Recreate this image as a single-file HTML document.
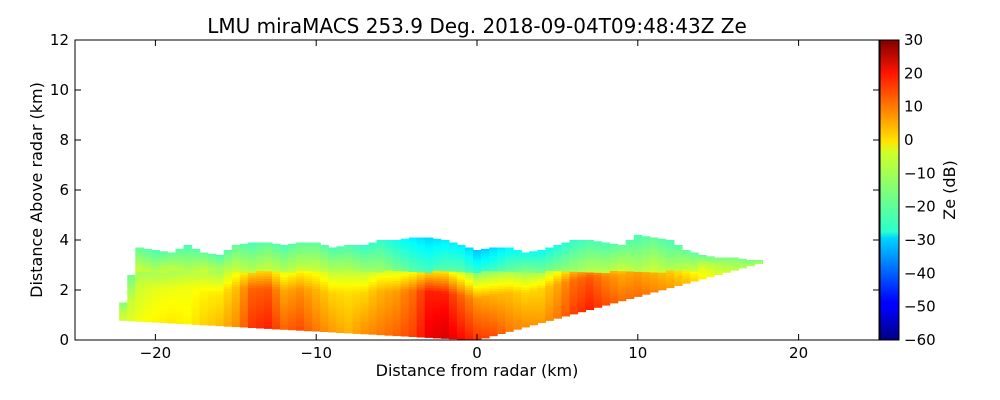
<!DOCTYPE html>
<html><head><meta charset="utf-8"><style>
body{margin:0;background:#fff;font-family:"Liberation Sans","DejaVu Sans",sans-serif;}
svg{display:block}
text{font-family:"DejaVu Sans","Liberation Sans",sans-serif;fill:#000}
</style></head><body>
<svg id="chart" width="1000" height="400" viewBox="0 0 1000 400">
<defs>
<linearGradient id="jet" x1="0" y1="1" x2="0" y2="0">
<stop offset="0" stop-color="#00007f"/><stop offset="0.11" stop-color="#0000ff"/><stop offset="0.125" stop-color="#0000ff"/>
<stop offset="0.34" stop-color="#00d4ff"/><stop offset="0.36" stop-color="#29ffce"/><stop offset="0.625" stop-color="#ceff29"/>
<stop offset="0.66" stop-color="#ffe600"/><stop offset="0.89" stop-color="#ff1400"/><stop offset="1" stop-color="#7f0000"/>
</linearGradient>
<clipPath id="plotclip"><rect x="75" y="40" width="804" height="300"/></clipPath>
</defs>
<rect x="0" y="0" width="1000" height="400" fill="#fff"/>
<text x="477" y="33" font-size="20" text-anchor="middle">LMU miraMACS 253.9 Deg. 2018-09-04T09:48:43Z  Ze</text>
<g id="cells" clip-path="url(#plotclip)"></g>
<rect x="75" y="40" width="804" height="300" fill="none" stroke="#000" stroke-width="1"/>
<g id="axes"></g>
<rect x="880" y="40" width="19" height="300" fill="url(#jet)" stroke="#000" stroke-width="1"/>
<text x="477" y="376" font-size="16" text-anchor="middle">Distance from radar (km)</text>
<text transform="translate(42,190) rotate(-90)" font-size="16" text-anchor="middle">Distance Above radar  (km)</text>
<text transform="translate(955,190) rotate(-90)" font-size="16" text-anchor="middle">Ze (dB)</text>
</svg>
<script>
const dist = [-22,-21,-20,-19,-18,-17,-16,-15,-14,-13,-12,-11,-10,-9,-8,-7,-6,-5,-4,-3,-2,-1,0,1,2,3,4,5,6,7,8,9,10,11,12,13,14,15,16,17];
const topKm = [1.5,3.7,3.6,3.5,3.8,3.5,3.4,3.8,3.9,3.9,3.8,3.9,3.9,3.7,3.8,3.8,4.0,4.0,4.1,4.1,4.0,3.8,3.6,3.7,3.7,3.5,3.6,3.8,4.0,4.0,3.9,3.8,4.2,4.1,4.0,3.6,3.4,3.3,3.3,3.2];
const zeLow = [-8,-5,-3,-2,-3,0,2,6,14,16,10,12,8,5,3,6,8,10,13,20,22,18,14,12,8,6,5,8,13,16,12,9,9,7,5,2,-3,-7,-10,-12];
const zeMid = [-10,-8,-6,-5,-5,-3,-2,2,10,11,4,6,3,0,-1,0,3,5,9,16,16,10,5,3,2,0,0,4,9,11,7,4,4,2,-1,-4,-7,-10,-12,-14];
const zeTop = [-15,-18,-20,-18,-20,-18,-20,-18,-20,-18,-20,-18,-18,-20,-20,-22,-22,-25,-28,-30,-28,-28,-32,-30,-27,-25,-26,-24,-22,-20,-20,-18,-20,-18,-20,-18,-18,-16,-16,-16];
const xTicks = [-20,-10,0,10,20];
const yTicks = [0,2,4,6,8,10,12];
const cTicks = [-60,-50,-40,-30,-20,-10,0,10,20,30];

const NS='http://www.w3.org/2000/svg';
const X = v => 75 + (v + 25) * 804 / 50;
const Y = v => 340 - v * 300 / 12;
const CY = v => 340 - (v + 60) * 300 / 90;
function bottomKm(x){ return x < 0 ? -x * 0.036 : x * 0.175; }
function jet(z){
  let t = Math.max(0, Math.min(1, (z + 60) / 90));
  const f = v => Math.round(255 * Math.max(0, Math.min(1, v)));
  return `rgb(${f(1.5 - Math.abs(4*t - 3))},${f(1.5 - Math.abs(4*t - 2))},${f(1.5 - Math.abs(4*t - 1))})`;
}
const cells = document.getElementById('cells');
const dx = 0.5, dh = 0.1;
for (let i = 0; i < dist.length; i++) {
  for (let s = 0; s < 2; s++) {
    const x0 = dist[i] + s * dx - 0.25;
    const j = Math.min(dist.length - 1, i + s);
    const w = s * 0.5;
    const top = topKm[i] * (1 - w) + topKm[j] * w;
    const lo = zeLow[i] * (1 - w) + zeLow[j] * w;
    const mi = zeMid[i] * (1 - w) + zeMid[j] * w;
    const hi = zeTop[i] * (1 - w) + zeTop[j] * w;
    const bot = bottomKm(x0 + dx / 2);
    for (let h = bot; h < top; h += dh) {
      const f = (h - bot) / Math.max(0.1, top - bot);
      let z;
      if (h > 2.7 && dist[i] < 14) z = hi + (1 - (h - 2.7) / Math.max(0.1, top - 2.7)) * 10;
      else if (f < 0.45) z = lo + (mi - lo) * f / 0.45;
      else z = mi + (hi - mi) * (f - 0.45) / 0.55;
      const r = document.createElementNS(NS, 'rect');
      
      
      r.setAttribute('x', X(x0).toFixed(1));
      r.setAttribute('y', Y(Math.min(top, h + dh)).toFixed(1));
      r.setAttribute('width', (dx * 804 / 50 + 0.6).toFixed(1));
      r.setAttribute('height', (Math.min(top, h + dh) - h) * 25 + 0.6);
      r.setAttribute('fill', jet(z));
      cells.appendChild(r);
    }
  }
}
const axes = document.getElementById('axes');
function line(x1,y1,x2,y2,name){
  const l = document.createElementNS(NS,'line');
  
  
  l.setAttribute('x1',x1);l.setAttribute('y1',y1);l.setAttribute('x2',x2);l.setAttribute('y2',y2);
  l.setAttribute('stroke','#000');
  axes.appendChild(l);
}
function text(x,y,s,anchor,name){
  const t = document.createElementNS(NS,'text');
  
  
  t.setAttribute('x',x);t.setAttribute('y',y);t.setAttribute('font-size','15');
  t.setAttribute('text-anchor',anchor);
  t.textContent = s;
  axes.appendChild(t);
}
const fmt = v => v < 0 ? '\u2212' + Math.abs(v) : String(v);
xTicks.forEach(v => { line(X(v),340,X(v),334,'x-tick'); line(X(v),40,X(v),46,'x-tick'); text(X(v),358,fmt(v),'middle','x-tick-label'); });
yTicks.forEach(v => { line(75,Y(v),81,Y(v),'y-tick'); line(879,Y(v),873,Y(v),'y-tick'); text(69,Y(v)+5,fmt(v),'end','y-tick-label'); });
cTicks.forEach(v => { line(893,CY(v),899,CY(v),'colorbar-tick'); text(904,CY(v)+5,fmt(v),'start','colorbar-tick-label'); });
</script>
</body></html>
